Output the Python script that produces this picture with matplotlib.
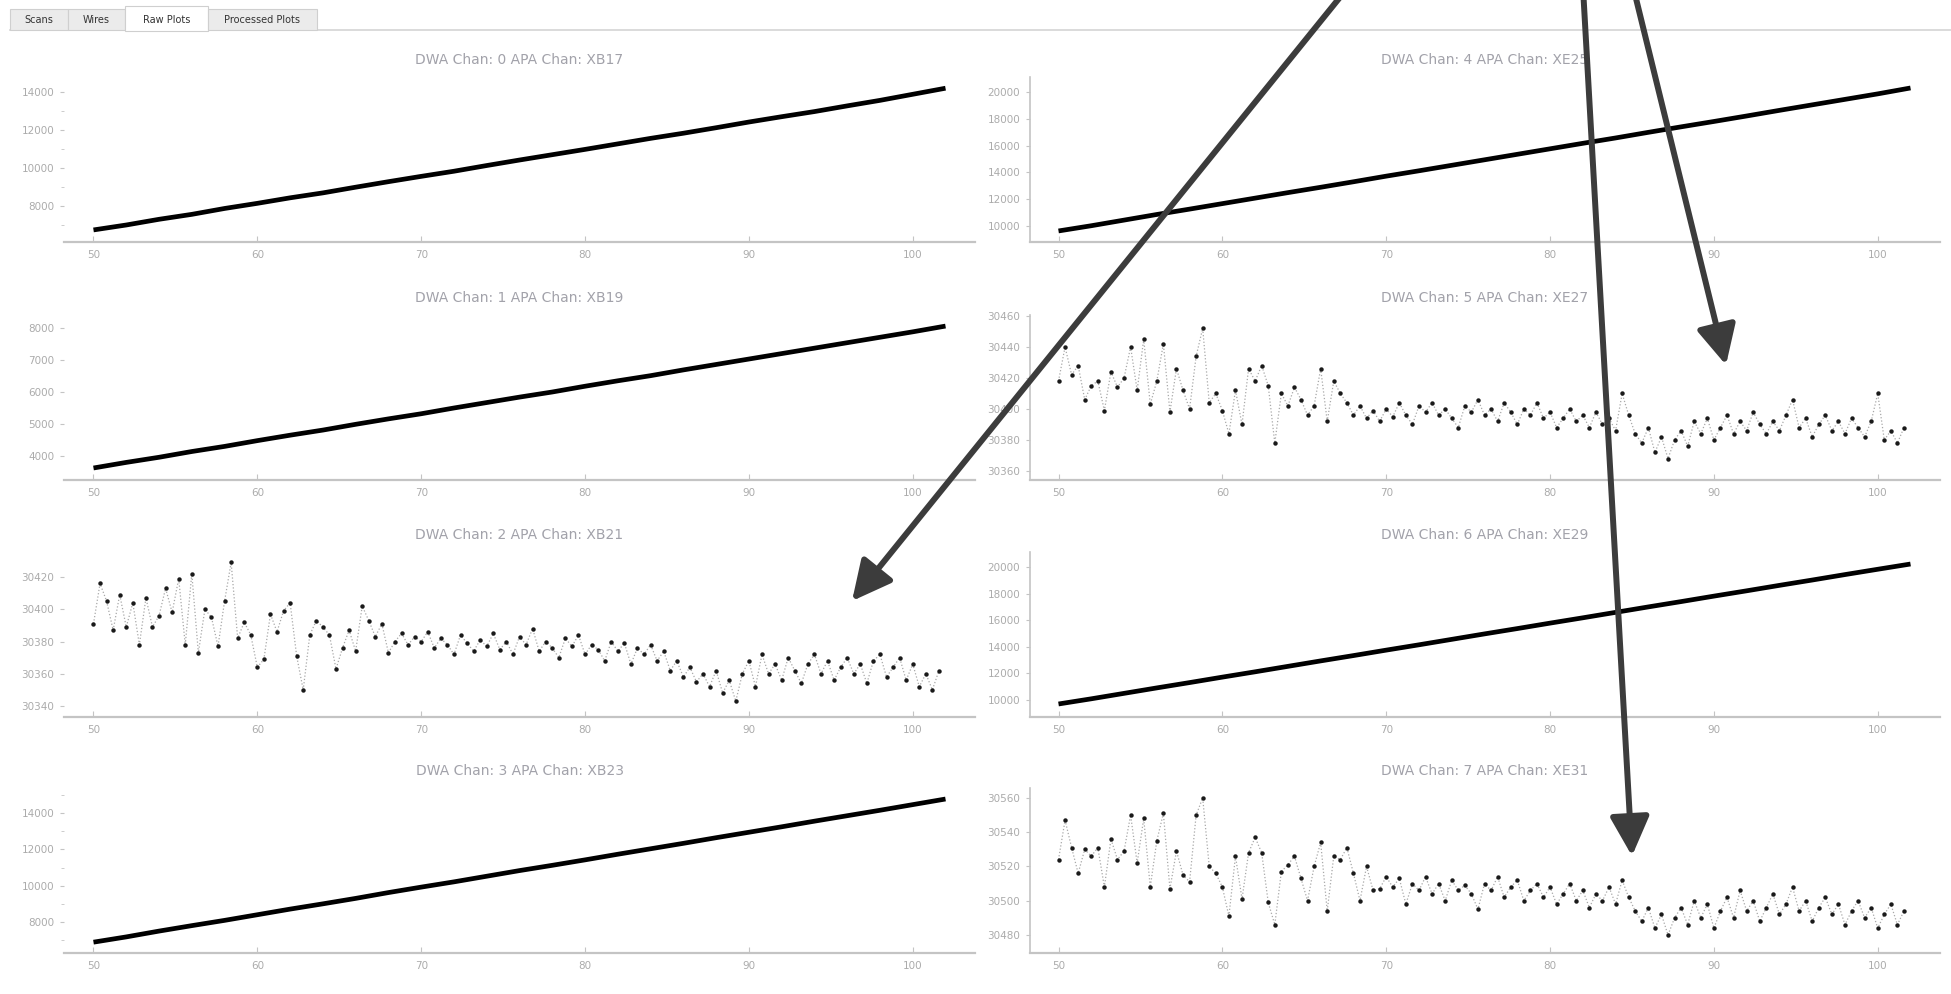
import numpy as np
import matplotlib
matplotlib.use("Agg")
import matplotlib.pyplot as plt
from matplotlib.patches import Rectangle, ArrowStyle
from matplotlib.ticker import MultipleLocator, FuncFormatter

W, H = 1951, 994

# --- data -------------------------------------------------------------
tab_names = ["Scans", "Wires", "Raw Plots", "Processed Plots"]

titles = ["DWA Chan: 0 APA Chan: XB17", "DWA Chan: 4 APA Chan: XE25",
          "DWA Chan: 1 APA Chan: XB19", "DWA Chan: 5 APA Chan: XE27",
          "DWA Chan: 2 APA Chan: XB21", "DWA Chan: 6 APA Chan: XE29",
          "DWA Chan: 3 APA Chan: XB23", "DWA Chan: 7 APA Chan: XE31"]

# smooth channels, sampled every 2 units of x
line_x = list(range(50, 103, 2))
chan0 = [6740, 7000, 7300, 7560, 7870, 8140, 8430, 8690, 8990, 9280, 9560, 9830, 10130, 10420,
         10700, 10980, 11270, 11560, 11830, 12120, 12420, 12700, 12970, 13270, 13560, 13880, 14200]
chan1 = [3625, 3800, 3960, 4140, 4300, 4480, 4650, 4810, 4990, 5160, 5320, 5500, 5670, 5840,
         6000, 6180, 6350, 6510, 6690, 6860, 7030, 7200, 7370, 7540, 7710, 7880, 8060]
chan3 = [6890, 7180, 7500, 7800, 8090, 8400, 8710, 9000, 9300, 9620, 9920, 10210, 10520, 10830,
         11120, 11420, 11730, 12030, 12330, 12640, 12940, 13240, 13550, 13850, 14150, 14460, 14770]
chan4 = [9630, 10020, 10440, 10860, 11260, 11670, 12080, 12490, 12890, 13300, 13720, 14120, 14530,
         14940, 15350, 15760, 16170, 16570, 16990, 17400, 17800, 18210, 18630, 19040, 19450, 19860, 20300]
chan6 = [9700, 10090, 10500, 10910, 11310, 11720, 12120, 12530, 12940, 13340, 13750, 14150, 14560,
         14970, 15370, 15780, 16180, 16590, 17000, 17400, 17810, 18210, 18620, 19020, 19430, 19830, 20225]

# noisy channels, one sample every 0.4 units starting at 50
noisy_start, noisy_step = 50.0, 0.4
chan2 = [30391, 30416, 30405, 30387, 30409, 30389, 30404, 30378, 30407, 30389,
         30396, 30413, 30398, 30419, 30378, 30422, 30373, 30400, 30395, 30377,
         30405, 30429, 30382, 30392, 30384, 30364, 30369, 30397, 30386, 30399,
         30404, 30371, 30350, 30384, 30393, 30389, 30384, 30363, 30376, 30387,
         30374, 30402, 30393, 30383, 30391, 30373, 30380, 30385, 30378, 30383,
         30380, 30386, 30376, 30382, 30378, 30372, 30384, 30379, 30374, 30381,
         30377, 30385, 30375, 30380, 30372, 30383, 30378, 30388, 30374, 30380,
         30376, 30370, 30382, 30377, 30384, 30372, 30378, 30375, 30368, 30380,
         30374, 30379, 30366, 30376, 30372, 30378, 30368, 30374, 30362, 30368,
         30358, 30364, 30355, 30360, 30352, 30362, 30348, 30356, 30343, 30360,
         30368, 30352, 30372, 30360, 30366, 30356, 30370, 30362, 30354, 30366,
         30372, 30360, 30368, 30356, 30364, 30370, 30360, 30366, 30354, 30368,
         30372, 30358, 30364, 30370, 30356, 30366, 30352, 30360, 30350, 30362]
chan5 = [30418, 30440, 30422, 30428, 30406, 30415, 30418, 30399, 30424, 30414,
         30420, 30440, 30412, 30445, 30403, 30418, 30442, 30398, 30426, 30412,
         30400, 30434, 30452, 30404, 30410, 30399, 30384, 30412, 30390, 30426,
         30418, 30428, 30415, 30378, 30410, 30402, 30414, 30406, 30396, 30402,
         30426, 30392, 30418, 30410, 30404, 30396, 30402, 30394, 30399, 30392,
         30400, 30395, 30404, 30396, 30390, 30402, 30398, 30404, 30396, 30400,
         30394, 30388, 30402, 30398, 30406, 30396, 30400, 30392, 30404, 30398,
         30390, 30400, 30396, 30404, 30394, 30398, 30388, 30394, 30400, 30392,
         30396, 30388, 30398, 30390, 30394, 30386, 30410, 30396, 30384, 30378,
         30388, 30372, 30382, 30368, 30380, 30386, 30376, 30392, 30384, 30394,
         30380, 30388, 30396, 30384, 30392, 30386, 30398, 30390, 30384, 30392,
         30386, 30396, 30406, 30388, 30394, 30382, 30390, 30396, 30386, 30392,
         30384, 30394, 30388, 30382, 30392, 30410, 30380, 30386, 30378, 30388]
chan7 = [30524, 30547, 30531, 30516, 30530, 30526, 30531, 30508, 30536, 30524,
         30529, 30550, 30522, 30548, 30508, 30535, 30551, 30507, 30529, 30515,
         30511, 30550, 30560, 30520, 30516, 30508, 30491, 30526, 30501, 30528,
         30537, 30528, 30499, 30486, 30517, 30521, 30526, 30513, 30500, 30520,
         30534, 30494, 30526, 30524, 30531, 30516, 30500, 30520, 30506, 30507,
         30514, 30508, 30513, 30498, 30510, 30506, 30514, 30504, 30510, 30500,
         30512, 30506, 30509, 30504, 30495, 30510, 30506, 30514, 30502, 30508,
         30512, 30500, 30506, 30510, 30502, 30508, 30498, 30504, 30510, 30500,
         30506, 30496, 30504, 30500, 30508, 30498, 30512, 30502, 30494, 30488,
         30496, 30484, 30492, 30480, 30490, 30496, 30486, 30500, 30490, 30498,
         30484, 30494, 30502, 30490, 30506, 30494, 30500, 30488, 30496, 30504,
         30492, 30498, 30508, 30494, 30500, 30488, 30496, 30502, 30492, 30498,
         30486, 30494, 30500, 30490, 30496, 30484, 30492, 30498, 30486, 30494]

x_ticks = [50, 60, 70, 80, 90, 100]

# per panel: data, y limits, major/minor y tick step  (order = row major, left then right)
panels = [
    (chan0, "line", (6105, 14790), 2000, 1000),
    (chan4, "line", (8806, 21119), 2000, None),
    (chan1, "line", (3250, 8406), 1000, None),
    (chan5, "noisy", (30354.2, 30460.6), 20, None),
    (chan2, "noisy", (30333.2, 30435.5), 20, None),
    (chan6, "line", (8722, 21128), 2000, None),
    (chan3, "line", (6294, 15376), 2000, 1000),
    (chan7, "noisy", (30469.5, 30565.8), 20, None),
]

# --- figure -----------------------------------------------------------
fig = plt.figure(figsize=(W / 100, H / 100), dpi=100)
fig.patch.set_facecolor("white")

col_left = [64, 1030]
col_right = [975, 1940]
row_bottom = [242, 480, 717, 953]
ax_h = 165
xlims = [(48.2, 103.8), (48.26, 103.8)]

tick_col = "#ababab"
axis_col = "#c4c4c4"

for i, (vals, kind, ylim, major, minor) in enumerate(panels):
    r, c = divmod(i, 2)
    x0, x1 = col_left[c], col_right[c]
    yb = row_bottom[r]
    ax = fig.add_axes([x0 / W, 1 - yb / H, (x1 - x0) / W, ax_h / H])
    ax.set_facecolor("none")

    if kind == "line":
        ax.plot(line_x, vals, color="black", lw=3.4, solid_capstyle="butt")
    else:
        xs = noisy_start + noisy_step * np.arange(len(vals))
        ax.plot(xs, vals, color="#a8a8a8", lw=0.9, ls=":")
        ax.plot(xs, vals, "o", ms=3.2, color="#1a1a1a", mec="none")

    ax.set_xlim(*xlims[c])
    ax.set_ylim(*ylim)
    ax.set_xticks(x_ticks)
    ax.yaxis.set_major_locator(MultipleLocator(major))
    if minor:
        ax.yaxis.set_minor_locator(MultipleLocator(minor))
    ax.yaxis.set_major_formatter(FuncFormatter(lambda v, p: "%d" % v))

    for s in ["top", "right"]:
        ax.spines[s].set_visible(False)
    ax.spines["bottom"].set_color(axis_col)
    ax.spines["bottom"].set_linewidth(1.6)
    if c == 0:
        ax.spines["left"].set_visible(False)
    else:
        ax.spines["left"].set_color(axis_col)
        ax.spines["left"].set_linewidth(1.2)

    ax.tick_params(axis="x", direction="in", length=4, color=axis_col,
                   labelcolor=tick_col, labelsize=7.5, pad=6)
    ax.tick_params(axis="y", which="both", direction="out", length=3, color=axis_col,
                   labelcolor=tick_col, labelsize=7.5, pad=4)
    ax.tick_params(axis="y", which="minor", length=2)

    ax.text(0.5, 1.0 + 17 / ax_h, titles[i], transform=ax.transAxes, ha="center",
            va="center", fontsize=10, color="#a2a2aa")

# overlay: tab bar and arrows
ov = fig.add_axes([0, 0, 1, 1], zorder=10)
ov.set_xlim(0, W)
ov.set_ylim(H, 0)
ov.axis("off")
ov.patch.set_alpha(0)

tab_edges = [10, 68, 125, 208, 317]
ov.plot([10, W], [30, 30], color="#d4d4d4", lw=1.2)
for k, name in enumerate(tab_names):
    a, b = tab_edges[k], tab_edges[k + 1]
    selected = name == "Raw Plots"
    top = 6 if selected else 9
    ov.add_patch(Rectangle((a, top), b - a, 30 - top + (1 if selected else 0),
                           facecolor="white" if selected else "#ebebeb",
                           edgecolor="#cfcfcf", lw=0.8, zorder=2))
    ov.text((a + b) / 2, 20, name, ha="center", va="center", fontsize=7, color="#333333", zorder=3)

arrow_style = ArrowStyle("-|>", head_length=0.6, head_width=0.3)
arrows = [((1362, -30), (852, 601)), ((1582, -30), (1632, 856)), ((1629, -30), (1726, 365))]
for start, tip in arrows:
    ov.annotate("", xy=tip, xytext=start, annotation_clip=False,
                arrowprops=dict(arrowstyle=arrow_style, lw=4.3, color="#3c3c3c",
                                mutation_scale=40, shrinkA=0, shrinkB=0))

fig.savefig("out.png", dpi=100, facecolor="white")
